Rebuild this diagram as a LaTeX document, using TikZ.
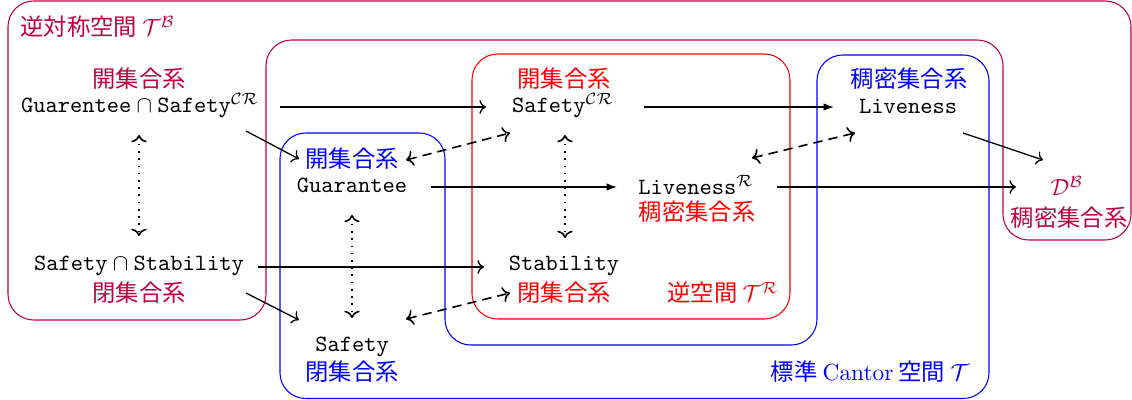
\documentclass[tikz,border=0pt]{standalone}
\usepackage{fontspec}
\newfontfamily\jp{Noto Sans CJK JP}
\usetikzlibrary{arrows.meta}
\begin{document}
\begin{tikzpicture}[x=0.4286pt,y=-0.4286pt,
  lbl/.style={inner sep=0pt,anchor=center,font=\jp},
  term/.style={inner sep=0pt,anchor=base},
  arr/.style={->,line width=0.55pt},
  farr/.style={-{Latex[length=4.5pt,width=3.2pt]},line width=0.55pt},
  dotarr/.style={<->,line width=0.7pt,dash pattern=on 0.7pt off 2.4pt},
  dasharr/.style={<->,line width=0.7pt,dash pattern=on 4pt off 2.6pt},
  region/.style={line width=0.45pt,rounded corners=11pt}]
\useasboundingbox (0,0) rectangle (1132,400);

% regions
\draw[region,purple] (8,160) -- (8,1) -- (1131,1) -- (1131,240) -- (1003,240) -- (1003,40) -- (266,40) -- (266,320) -- (8,320) -- cycle;
\draw[region,blue] (280,260) -- (280,133) -- (445,133) -- (445,345) -- (817,345) -- (817,55) -- (989,55) -- (989,398.5) -- (280,398.5) -- cycle;
\draw[region,red] (472,54) rectangle (790,319);

% labels
\node[lbl,purple,anchor=west] (tB) at (20,27) {逆対称空間 $\mathcal{T}^{\mathcal{B}}$};
\node[lbl,purple] (oB) at (139,79) {開集合系};
\node[term] (GS) at (140,113) {\texttt{Guarentee}$\:\cap\:$\texttt{Safety}$^{\mathcal{CR}}$};
\node[term] (SSt) at (139,271) {\texttt{Safety}$\:\cap\:$\texttt{Stability}};
\node[lbl,purple] (cB) at (139,293) {閉集合系};

\node[lbl,blue] (oT) at (352,159) {開集合系};
\node[term] (G) at (352,193) {\texttt{Guarantee}};
\node[term] (S) at (352,351) {\texttt{Safety}};
\node[lbl,blue] (cT) at (352,372) {閉集合系};

\node[lbl,red] (oR) at (564,79) {開集合系};
\node[term] (SCR) at (563,113) {\texttt{Safety}$^{\mathcal{CR}}$};
\node[term] (St) at (564,271) {\texttt{Stability}};
\node[lbl,red] (cR) at (564,293) {閉集合系};
\node[term] (LR) at (696,195) {\texttt{Liveness}$^{\mathcal{R}}$};
\node[lbl,red] (dR) at (697,212) {稠密集合系};
\node[lbl,red] (sR) at (723,293) {逆空間 $\mathcal{T}^{\mathcal{R}}$};

\node[lbl,blue] (dT) at (909,79) {稠密集合系};
\node[term] (L) at (908,114) {\texttt{Liveness}};
\node[term,purple] (DB) at (1067,196) {$\mathcal{D}^{\mathcal{B}}$};
\node[lbl,purple] (dB) at (1069,218) {稠密集合系};
\node[lbl,blue] (sT) at (870,372) {標準 {\rmfamily Cantor} 空間 $\mathcal{T}$};

% solid arrows
\draw[arr] ([shift={(140,-6)}]GS.base) -- ([shift={(-77,-6)}]SCR.base);
\draw[farr] ([shift={(81,-6)}]SCR.base) -- ([shift={(-74,-7)}]L.base);
\draw[arr] ([shift={(106,18)}]GS.base) -- ([shift={(-53,-34)}]G.base);
\draw[arr] ([shift={(107,22)}]SSt.base) -- ([shift={(-53,-31)}]S.base);
\draw[arr] ([shift={(119,-4)}]SSt.base) -- ([shift={(-80,-4)}]St.base);
\draw[farr] ([shift={(79,-6)}]G.base) -- ([shift={(-79,-8)}]LR.base);
\draw[arr] ([shift={(81,-8)}]LR.base) -- ([shift={(-51,-9)}]DB.base);
\draw[arr] ([shift={(55,19)}]L.base) -- ([shift={(-24,-36)}]DB.base);

% dotted
\draw[dotarr] ([shift={(-1,22)}]GS.base) -- ([shift={(0,-35)}]SSt.base);
\draw[dotarr] ([shift={(0,22)}]G.base) -- ([shift={(0,-33)}]S.base);
\draw[dotarr] ([shift={(2,22)}]SCR.base) -- ([shift={(1,-33)}]St.base);

% dashed
\draw[dasharr] ([shift={(54,-33)}]G.base) -- ([shift={(-53,20)}]SCR.base);
\draw[dasharr] ([shift={(54,-32)}]S.base) -- ([shift={(-54,22)}]St.base);
\draw[dasharr] ([shift={(56,-37)}]LR.base) -- ([shift={(-53,19)}]L.base);
\end{tikzpicture}
\end{document}
